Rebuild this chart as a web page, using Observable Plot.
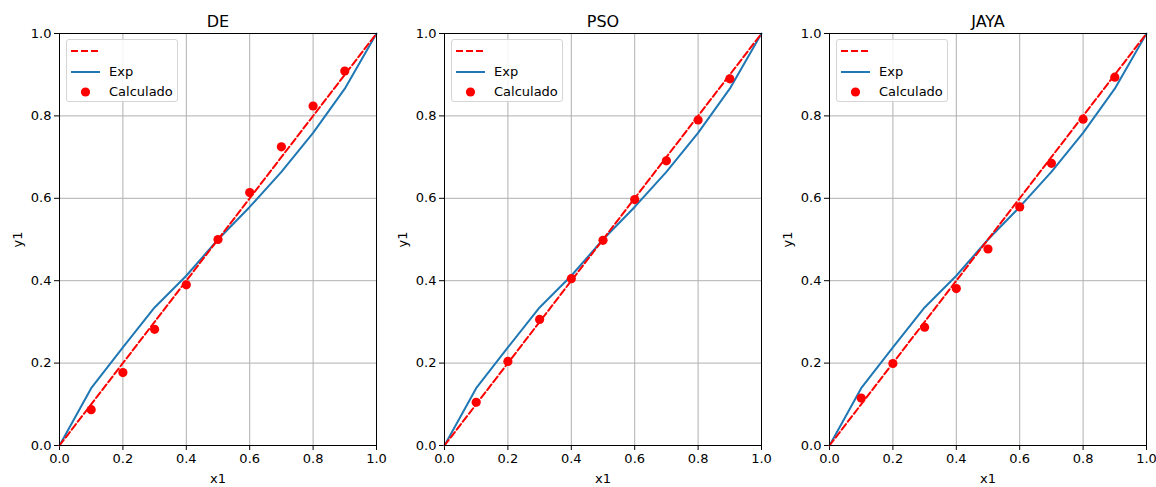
<!DOCTYPE html>
<html>
<head>
<meta charset="utf-8">
<script src="https://cdn.jsdelivr.net/npm/d3@7"></script>
<script src="https://cdn.jsdelivr.net/npm/@observablehq/plot@0.6"></script>
<style>
  html, body { margin: 0; padding: 0; background: #fff; overflow: hidden; }
  #wrap { position: relative; width: 1156px; height: 487px; overflow: hidden; font-family: "DejaVu Sans", sans-serif; }
  .panel { position: absolute; top: 0; width: 405px; height: 487px; }
  .legend { position: absolute; left: 66px; top: 39px; width: 112px; height: 63px; box-sizing: border-box;
            border: 1px solid #d5d5d5; border-radius: 3px; background: rgba(255,255,255,0.85);
            font-size: 13px; color: #000; }
  .legend .row { position: absolute; left: 0; height: 20px; width: 100%; }
  .legend svg { position: absolute; left: 3px; top: 0; }
  .legend span { position: absolute; left: 42px; top: 2px; }
</style>
</head>
<body>
<div id="wrap"></div>
<script>
// Data
const titles = ["DE", "PSO", "JAYA"];
const xExp = [0, 0.1, 0.2, 0.3, 0.4, 0.5, 0.6, 0.7, 0.8, 0.9, 1.0];
const yExp = [0, 0.139, 0.238, 0.335, 0.412, 0.5, 0.579, 0.664, 0.759, 0.866, 1.0];
const xIdeal = [0, 1];
const yIdeal = [0, 1];
const xCalc = [0.1, 0.2, 0.3, 0.4, 0.5, 0.6, 0.7, 0.8, 0.9];
const yCalcDE = [0.087, 0.177, 0.282, 0.390, 0.500, 0.614, 0.725, 0.824, 0.909];
const yCalcPSO = [0.105, 0.204, 0.306, 0.405, 0.498, 0.597, 0.691, 0.790, 0.890];
const yCalcJAYA = [0.115, 0.199, 0.287, 0.381, 0.477, 0.579, 0.685, 0.792, 0.894];
const ticks = [0, 0.2, 0.4, 0.6, 0.8, 1.0];
const legendLabels = ["", "Exp", "Calculado"];

const calcs = [yCalcDE, yCalcPSO, yCalcJAYA];
const expData = xExp.map((x, i) => ({x, y: yExp[i]}));
const idealData = xIdeal.map((x, i) => ({x, y: yIdeal[i]}));

const wrap = document.getElementById("wrap");
const fmt = d3.format(".1f");

titles.forEach((title, k) => {
  const calcData = xCalc.map((x, i) => ({x, y: calcs[k][i]}));
  const div = document.createElement("div");
  div.className = "panel";
  div.style.left = (k * 385) + "px";
  const chart = Plot.plot({
    width: 405,
    height: 487,
    marginLeft: 59,
    marginRight: 29,
    marginTop: 33,
    marginBottom: 42,
    style: {fontFamily: "DejaVu Sans, sans-serif", fontSize: "13px", color: "#000", background: "transparent", overflow: "visible"},
    x: {domain: [0, 1]},
    y: {domain: [0, 1]},
    marks: [
      Plot.gridX(ticks, {stroke: "#b0b0b0", strokeOpacity: 1, strokeWidth: 1}),
      Plot.gridY(ticks, {stroke: "#b0b0b0", strokeOpacity: 1, strokeWidth: 1}),
      Plot.axisX(ticks, {tickFormat: fmt, tickSize: 5, tickPadding: 3, label: "x1", labelAnchor: "center", labelArrow: "none", labelOffset: 37, fontSize: 13}),
      Plot.axisY(ticks, {tickFormat: fmt, tickSize: 5, tickPadding: 3, label: "y1", labelAnchor: "center", labelArrow: "none", labelOffset: 47, fontSize: 13}),
      Plot.line(expData, {x: "x", y: "y", stroke: "#1f77b4", strokeWidth: 2}),
      Plot.line(idealData, {x: "x", y: "y", stroke: "#ff0000", strokeWidth: 2, strokeDasharray: "7,3"}),
      Plot.dot(calcData, {x: "x", y: "y", r: 4.6, fill: "#ff0000", stroke: "none"}),
      Plot.frame({stroke: "#000", strokeWidth: 1}),
      Plot.text([title], {frameAnchor: "top", dy: -18, fontSize: 16, fill: "#000"})
    ]
  });
  div.appendChild(chart);

  const leg = document.createElement("div");
  leg.className = "legend";
  const rowsHTML = [
    `<svg width="36" height="20"><line x1="1" y1="10" x2="30" y2="10" stroke="#ff0000" stroke-width="2" stroke-dasharray="7,3"/></svg>`,
    `<svg width="36" height="20"><line x1="1" y1="10" x2="30" y2="10" stroke="#1f77b4" stroke-width="2"/></svg>`,
    `<svg width="36" height="20"><circle cx="15.5" cy="10" r="4.6" fill="#ff0000"/></svg>`
  ];
  legendLabels.forEach((lab, i) => {
    const row = document.createElement("div");
    row.className = "row";
    row.style.top = (i * 20.5 + 1) + "px";
    row.innerHTML = rowsHTML[i] + `<span>${lab}</span>`;
    leg.appendChild(row);
  });
  div.appendChild(leg);
  wrap.appendChild(div);
});
</script>
</body>
</html>
